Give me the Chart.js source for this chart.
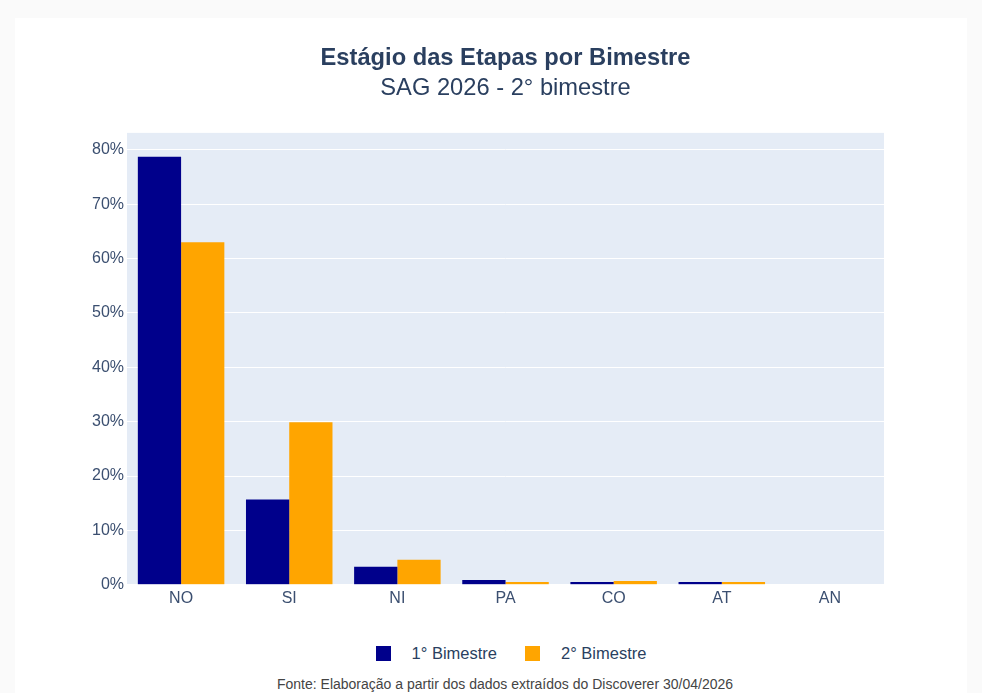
<!DOCTYPE html>
<html lang="pt">
<head>
  <meta charset="UTF-8">
  <title>Estágio das Etapas por Bimestre</title>
  <script src="https://cdn.jsdelivr.net/npm/chart.js"></script>
  <style>
    html, body { margin: 0; padding: 0; }
    body { background: #fafafa; width: 982px; height: 693px; position: relative; overflow: hidden; font-family: 'Liberation Sans', Arial, sans-serif; }
    .card { position: absolute; left: 15px; right: 15px; top: 18px; bottom: 0; background: #fff; }
    #wrap { position: absolute; left: 0; top: 0; width: 982px; height: 618px; }
    .legend { position: absolute; top: 644px; left: 0; width: 1022px; text-align: center; font-size: 16.5px; color: #2a3f5f; }
    .legend span.item { display: inline-block; margin: 0 14px; }
    .legend span.box { display: inline-block; width: 15px; height: 15px; vertical-align: -2px; margin-right: 21px; }
    .footer { position: absolute; top: 676px; left: 0; width: 1010px; text-align: center; font-size: 14px; color: #444; }
  </style>
</head>
<body>
  <div class="card"></div>
  <div id="wrap"><canvas id="chart"></canvas></div>
  <div class="legend" id="legend"></div>
  <div class="footer">Fonte: Elaboração a partir dos dados extraídos do Discoverer 30/04/2026</div>

  <script>
    const categories = ['NO', 'SI', 'NI', 'PA', 'CO', 'AT', 'AN'];
    const bim1 = [78.7, 15.7, 3.3, 0.9, 0.5, 0.5, 0];
    const bim2 = [63.0, 29.9, 4.6, 0.5, 0.7, 0.5, 0.1];
    const seriesNames = ['1° Bimestre', '2° Bimestre'];
    const colors = ['#00008b', '#ffa500'];
    const yTicks = [0, 10, 20, 30, 40, 50, 60, 70, 80];

    // plot background like plotly
    const plotBg = {
      id: 'plotBg',
      beforeDraw(chart) {
        const { ctx, chartArea: a } = chart;
        ctx.save();
        ctx.fillStyle = '#e5ecf6';
        ctx.fillRect(a.left, a.top, a.right - a.left, a.bottom - a.top);
        ctx.restore();
      }
    };

    new Chart(document.getElementById('chart').getContext('2d'), {
      type: 'bar',
      data: {
        labels: categories,
        datasets: [
          { label: seriesNames[0], data: bim1, backgroundColor: colors[0] },
          { label: seriesNames[1], data: bim2, backgroundColor: colors[1] }
        ]
      },
      options: {
        responsive: true,
        maintainAspectRatio: false,
        animation: false,
        layout: { padding: { left: 89, right: 98, top: 0, bottom: 14 } },
        datasets: { bar: { categoryPercentage: 0.8, barPercentage: 1.0 } },
        scales: {
          x: {
            grid: { display: false },
            border: { display: false },
            ticks: { color: '#3b4f70', font: { family: 'Liberation Sans', size: 16 }, padding: -4 }
          },
          y: {
            min: 0,
            max: 83.1,
            border: { display: false },
            grid: { color: '#ffffff', lineWidth: 1, drawTicks: false },
            afterBuildTicks: axis => { axis.ticks = yTicks.map(v => ({ value: v })); },
            ticks: {
              color: '#3b4f70',
              font: { family: 'Liberation Sans', size: 16 },
              padding: 3,
              callback: v => v + '%'
            }
          }
        },
        plugins: {
          legend: { display: false },
          tooltip: { callbacks: { label: ctx => `${ctx.dataset.label}: ${ctx.raw}%` } },
          title: {
            display: true,
            fullSize: false,
            text: 'Estágio das Etapas por Bimestre',
            color: '#2a3f5f',
            font: { family: 'Liberation Sans', size: 23.7, weight: 'bold' },
            padding: { top: 44, bottom: 2 }
          },
          subtitle: {
            display: true,
            fullSize: false,
            text: 'SAG 2026 - 2° bimestre',
            color: '#2a3f5f',
            font: { family: 'Liberation Sans', size: 23.7 },
            padding: { top: 0, bottom: 30 }
          }
        }
      },
      plugins: [plotBg]
    });

    document.getElementById('legend').innerHTML = seriesNames.map((n, i) =>
      `<span class="item"><span class="box" style="background:${colors[i]}"></span>${n}</span>`).join('');
  </script>
</body>
</html>
